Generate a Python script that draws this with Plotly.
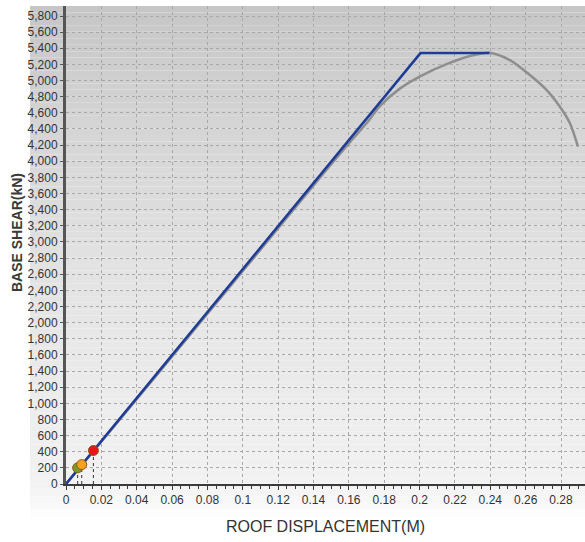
import plotly.graph_objects as go

# ---- data ----
bilinear_x = [0.0, 0.2005, 0.2395]
bilinear_y = [0, 5340, 5340]

pushover_x = [0.0, 0.02, 0.04, 0.06, 0.08, 0.10, 0.12, 0.14, 0.16, 0.17, 0.1776,
              0.189, 0.2006, 0.2153, 0.2285, 0.2394, 0.2511, 0.2624, 0.2719,
              0.2794, 0.285, 0.2896]
pushover_y = [0, 525, 1050, 1580, 2110, 2640, 3170, 3700, 4220, 4470, 4684,
              4903, 5056, 5204, 5304, 5345, 5254, 5068, 4882, 4675, 4473, 4180]

point_x = [0.0066, 0.0089, 0.0155]
point_y = [200, 240, 415]
point_colors = ["#7a9a2a", "#f5a020", "#e8141c"]

x_ticks = [0, 0.02, 0.04, 0.06, 0.08, 0.1, 0.12, 0.14, 0.16, 0.18, 0.2,
           0.22, 0.24, 0.26, 0.28]
x_tick_labels = ["0", "0.02", "0.04", "0.06", "0.08", "0.1", "0.12", "0.14",
                 "0.16", "0.18", "0.2", "0.22", "0.24", "0.26", "0.28"]
y_ticks = list(range(0, 5801, 200))
y_tick_labels = [f"{v:,}" for v in y_ticks]

W, H = 585, 542
L, R, T, B = 66, 0, 6, 58
plot_h = H - T - B
plot_w = W - L - R

fig = go.Figure()

# background gradient bands (styling)
shapes = []
top_px, bottom_px = 6, 522
n = 80
def col_at(pix):
    stops = [(6, 198), (120, 212), (260, 226), (400, 236), (484, 242), (522, 255)]
    for (p0, c0), (p1, c1) in zip(stops[:-1], stops[1:]):
        if p0 <= pix <= p1:
            return c0 + (c1 - c0) * (pix - p0) / (p1 - p0)
    return 255
for i in range(n):
    p0 = top_px + (bottom_px - top_px) * i / n
    p1 = top_px + (bottom_px - top_px) * (i + 1) / n
    c = int(round(col_at((p0 + p1) / 2)))
    shapes.append(dict(type="rect", xref="paper", yref="paper",
                       x0=(30 - L) / plot_w, x1=1.0,
                       y0=(H - B - p1) / plot_h, y1=(H - B - p0) / plot_h,
                       fillcolor=f"rgb({c},{c},{c})", line=dict(width=0),
                       layer="below"))

fig.add_trace(go.Scatter(x=pushover_x, y=pushover_y, mode="lines",
                         line=dict(color="#8e8e8e", width=2.5, shape="spline", smoothing=0.8),
                         hoverinfo="skip", showlegend=False))
fig.add_trace(go.Scatter(x=bilinear_x, y=bilinear_y, mode="lines",
                         line=dict(color="#1f3c96", width=2.5),
                         hoverinfo="skip", showlegend=False))
for px_, py_ in zip(point_x, point_y):
    fig.add_trace(go.Scatter(x=[px_, px_], y=[0, py_], mode="lines",
                             line=dict(color="#333333", width=1, dash="dot"),
                             hoverinfo="skip", showlegend=False))
fig.add_trace(go.Scatter(x=point_x, y=point_y, mode="markers",
                         marker=dict(color=point_colors, size=10,
                                     line=dict(color="#8a5a10", width=1)),
                         hoverinfo="skip", showlegend=False))

fig.add_annotation(text="<b>BASE SHEAR(kN)</b>", textangle=-90,
                   xref="paper", yref="paper",
                   x=(17 - L) / plot_w, y=(H - B - 233) / plot_h,
                   xanchor="center", yanchor="middle", showarrow=False,
                   font=dict(size=14, color="#3a3a3a"))

fig.update_layout(
    width=W, height=H,
    margin=dict(l=L, r=R, t=T, b=B, pad=0, autoexpand=False),
    paper_bgcolor="white",
    plot_bgcolor="rgba(0,0,0,0)",
    shapes=shapes,
    font=dict(family="Liberation Sans, Arial, sans-serif", color="#333333"),
    xaxis=dict(
        range=[0, 0.28 * 519 / 495],
        automargin=False,
        tickvals=x_ticks, ticktext=x_tick_labels,
        tickfont=dict(size=12, color="#333333"),
        showgrid=True, gridcolor="#a8a8a8", griddash="dot", gridwidth=1,
        showline=True, linecolor="#3a3a3a", linewidth=2,
        ticks="outside", ticklen=4, tickcolor="#3a3a3a",
        minor=dict(dtick=0.005, ticks="outside", ticklen=3, tickcolor="#3a3a3a", showgrid=False),
        zeroline=False,
        title=dict(text="ROOF DISPLACEMENT(M)",
                   font=dict(size=16, color="#333333",
                             family="Liberation Sans Narrow, Liberation Sans, Arial"),
                   standoff=14),
    ),
    yaxis=dict(
        range=[0, 5800 * 478 / 468],
        automargin=False,
        tickvals=y_ticks, ticktext=y_tick_labels,
        tickfont=dict(size=12, color="#333333"),
        showgrid=True, gridcolor="#a8a8a8", griddash="dot", gridwidth=1,
        showline=True, linecolor="#555555", linewidth=3,
        ticks="outside", ticklen=3, tickcolor="#555555",
        zeroline=False,
    ),
)

fig.write_html("out.html", config={"displayModeBar": False},
               post_script="document.body.style.margin='0';document.body.style.overflow='hidden';")
